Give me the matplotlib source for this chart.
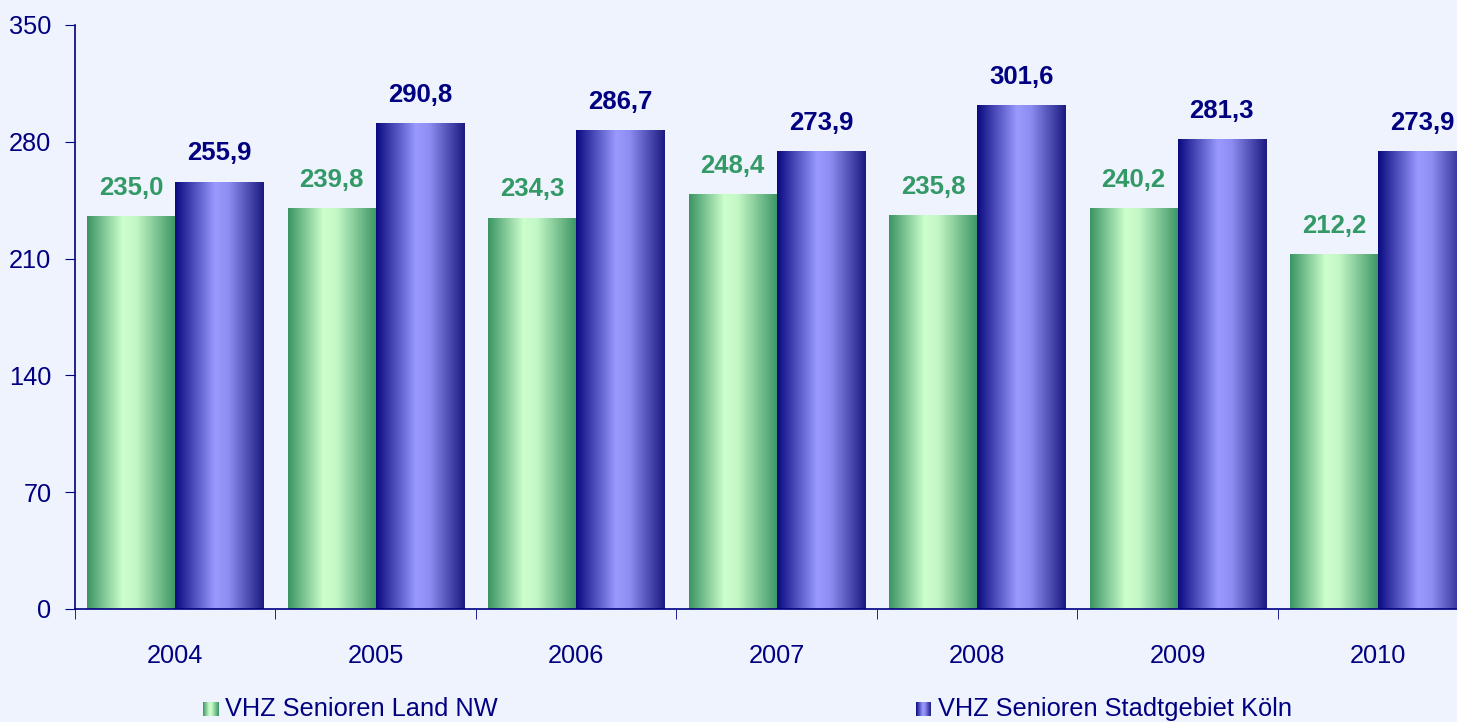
import matplotlib.pyplot as plt
import numpy as np
from matplotlib.colors import LinearSegmentedColormap

years = ['2004', '2005', '2006', '2007', '2008', '2009', '2010']
land_nw = [235.0, 239.8, 234.3, 248.4, 235.8, 240.2, 212.2]
koeln = [255.9, 290.8, 286.7, 273.9, 301.6, 281.3, 273.9]
series_names = ['VHZ Senioren Land NW', 'VHZ Senioren Stadtgebiet Köln']
yticks = [0, 70, 140, 210, 280, 350]

plt.rcParams['font.family'] = ['Liberation Sans', 'DejaVu Sans']
navy = '#000080'
bg = '#EEF3FE'

green_cm = LinearSegmentedColormap.from_list(
    'g', [(0, '#3A9563'), (0.4, '#CCFFCC'), (0.55, '#C4F7C6'), (1, '#3A9563')])
blue_cm = LinearSegmentedColormap.from_list(
    'b', [(0, '#0A0A80'), (0.45, '#9999FF'), (0.6, '#8E8EF2'), (1, '#1A1A80')])
grad = np.linspace(0, 1, 256).reshape(1, -1)

fig = plt.figure(figsize=(14.57, 7.22), dpi=100, facecolor=bg)
ax = fig.add_axes([75 / 1457, 113 / 722, 1403.5 / 1457, 584 / 722])
ax.set_facecolor(bg)

x = np.arange(len(years))
w = 0.44
b1 = ax.bar(x - w / 2, land_nw, w, color='none')
b2 = ax.bar(x + w / 2, koeln, w, color='none')

for bars, cm in ((b1, green_cm), (b2, blue_cm)):
    for b in bars:
        ax.imshow(grad, cmap=cm, aspect='auto', zorder=2,
                  extent=[b.get_x(), b.get_x() + b.get_width(), 0, b.get_height()])

def fmt(v):
    return f'{v:.1f}'.replace('.', ',')

for xi, v in zip(x, land_nw):
    ax.annotate(fmt(v), (xi - w / 2, v), xytext=(0, 12), textcoords='offset points',
                ha='center', va='bottom', fontsize=18.5, fontweight='bold', color='#339966')
for xi, v in zip(x, koeln):
    ax.annotate(fmt(v), (xi + w / 2, v), xytext=(0, 12), textcoords='offset points',
                ha='center', va='bottom', fontsize=18.5, fontweight='bold', color=navy)

ax.set_xlim(-0.5, len(years) - 0.5)
ax.set_ylim(0, 350)
ax.set_yticks(yticks)
ax.set_yticklabels([str(t) for t in yticks])
ax.set_xticks(x)
ax.set_xticklabels(years)
ax.set_xticks(np.arange(len(years) + 1) - 0.5, minor=True)
ax.tick_params(axis='x', which='major', length=0, pad=25, labelsize=18.3, labelcolor=navy)
ax.tick_params(axis='x', which='minor', length=7, color=navy, direction='out')
ax.tick_params(axis='y', length=7, color=navy, pad=10, labelsize=18.3, labelcolor=navy)
for s in ('top', 'right'):
    ax.spines[s].set_visible(False)
for s in ('left', 'bottom'):
    ax.spines[s].set_color(navy)
    ax.spines[s].set_linewidth(1.2)

# legend
for (lx, name, cm) in ((203, series_names[0], green_cm), (916, series_names[1], blue_cm)):
    lax = fig.add_axes([lx / 1457, 6 / 722, 15 / 1457, 14 / 722])
    lax.imshow(grad, cmap=cm, aspect='auto')
    lax.axis('off')
    fig.text((lx + 22) / 1457, 13 / 722, name, fontsize=18.3, color=navy, va='center')

fig.savefig('out.png', dpi=100, facecolor=bg)
